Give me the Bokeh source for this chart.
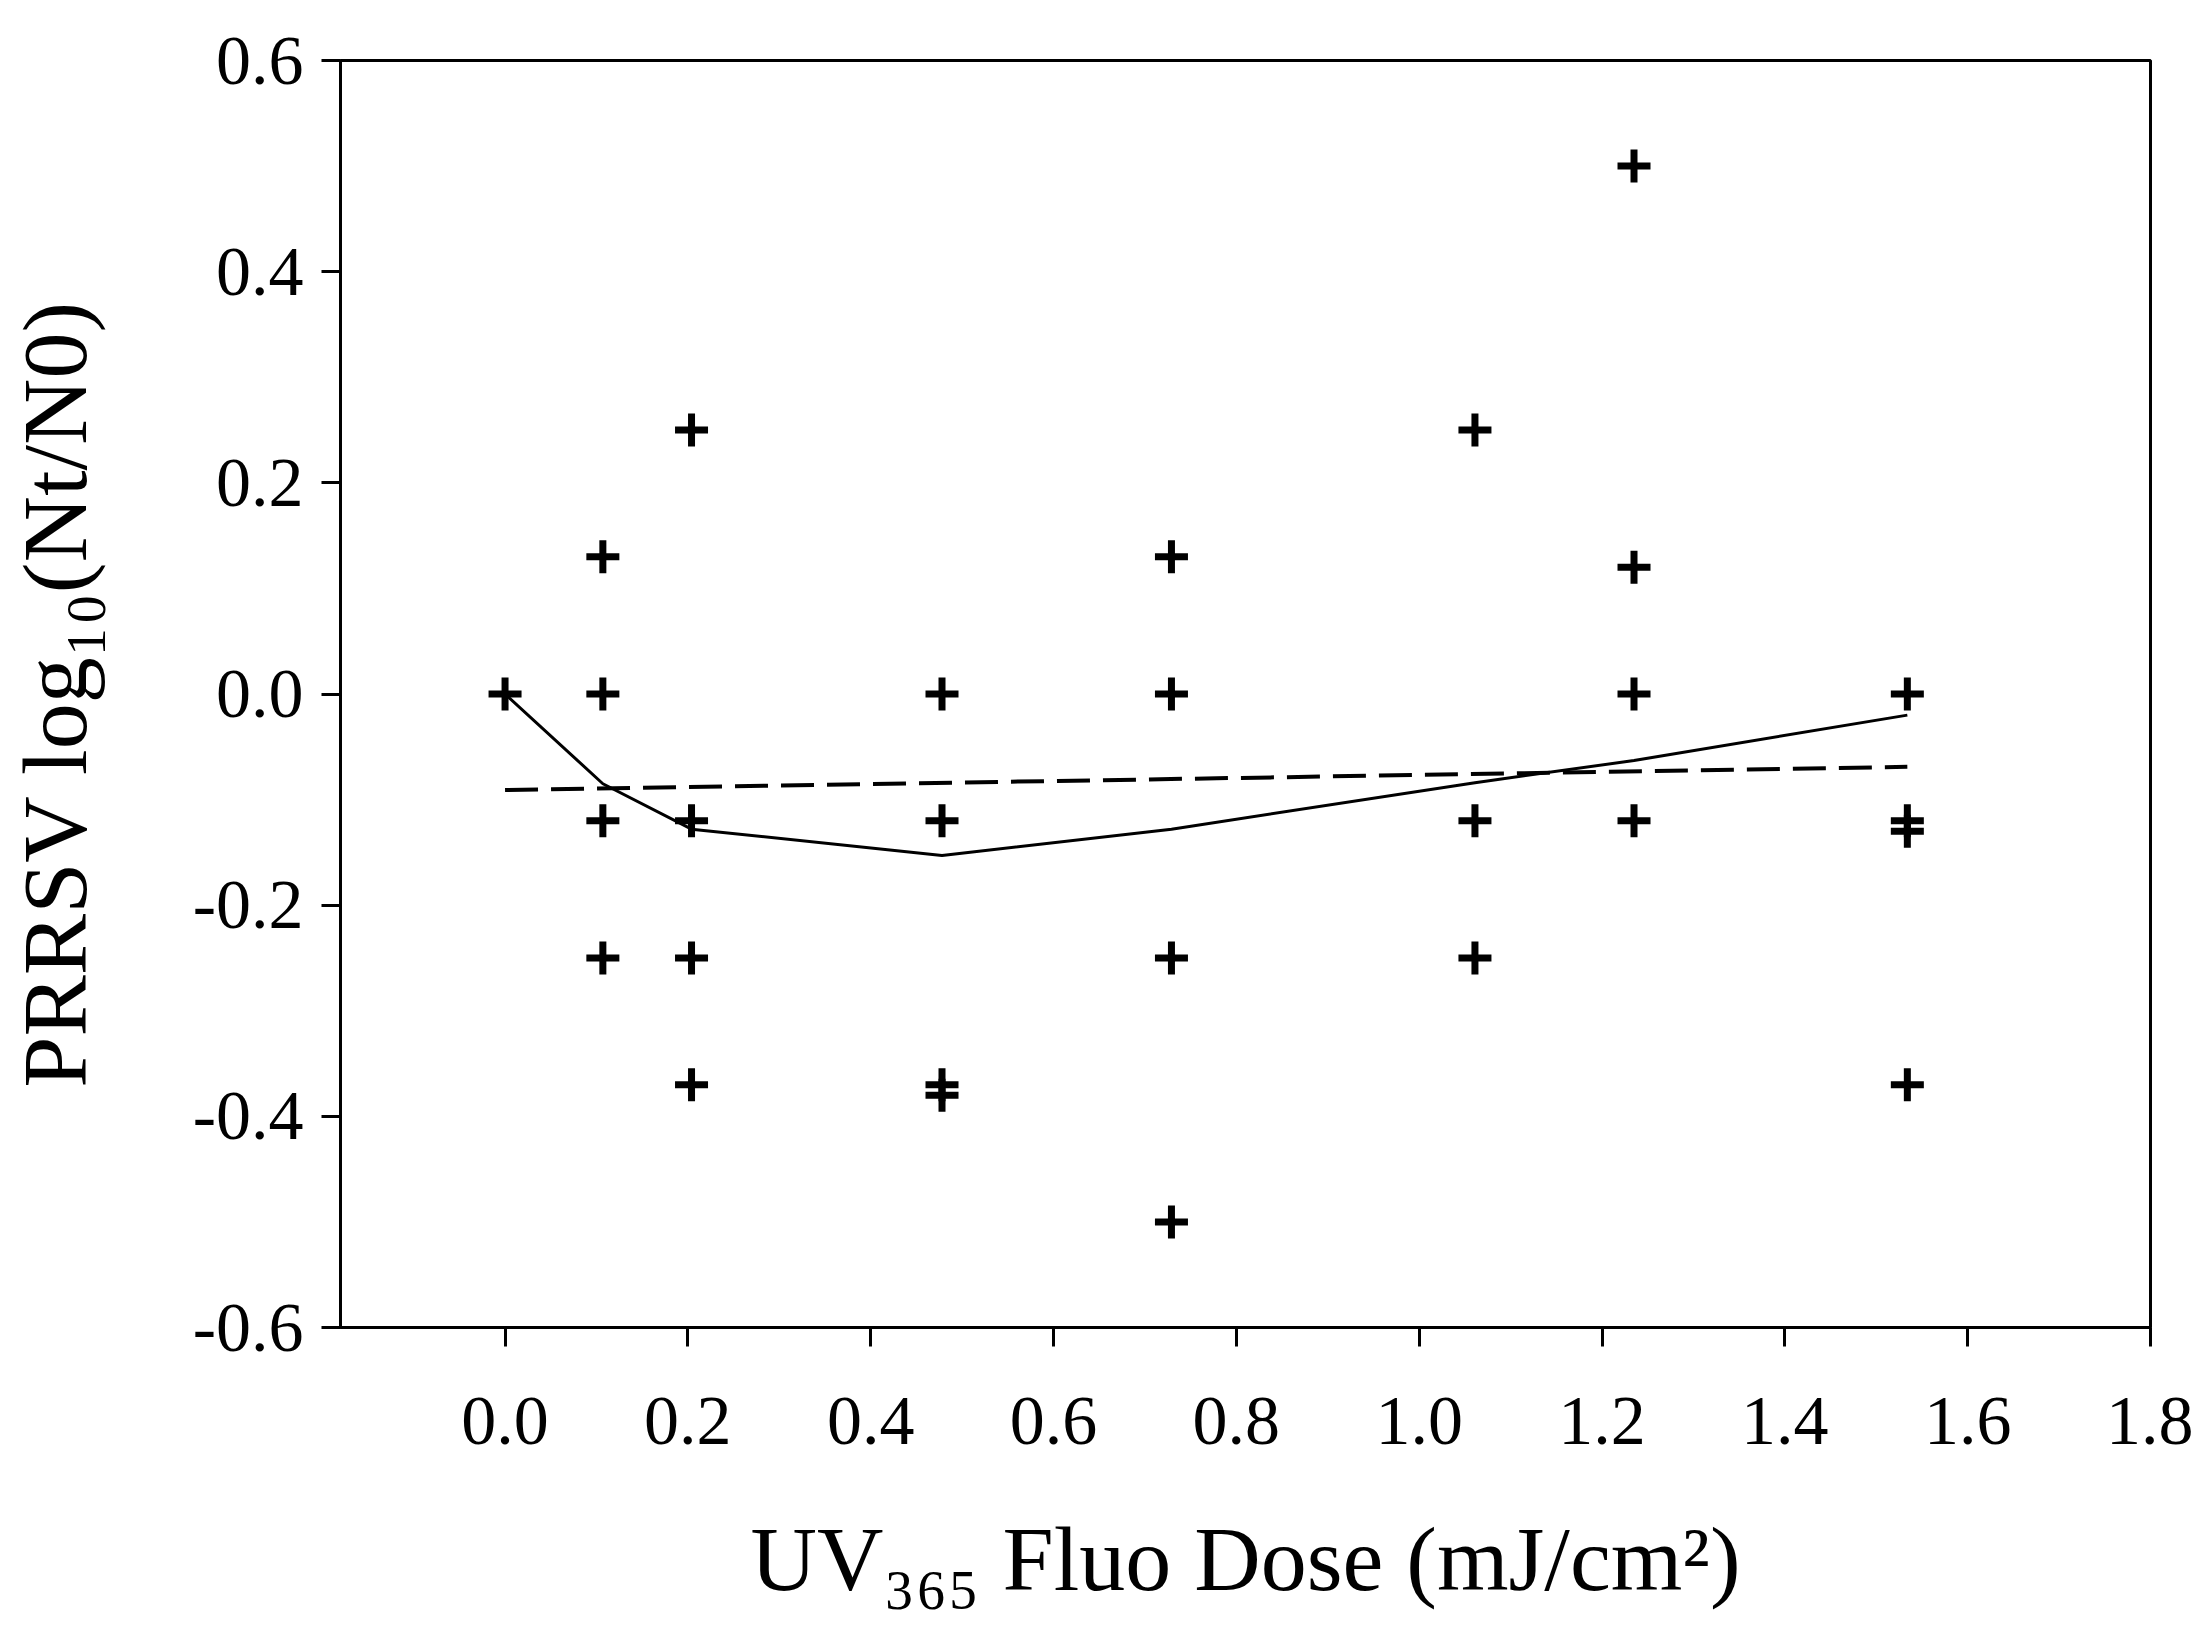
from bokeh.plotting import figure
from bokeh.models import FixedTicker, PrintfTickFormatter, Range1d
from bokeh.embed import file_html
from bokeh.resources import INLINE

# ---- data ----
doses = [0.0, 0.107, 0.204, 0.478, 0.729, 1.061, 1.235, 1.534]
replicates = [
    [0.0],
    [0.13, 0.0, -0.12, -0.25],
    [0.25, -0.12, -0.25, -0.37],
    [0.0, -0.12, -0.37, -0.38],
    [0.13, 0.0, -0.25, -0.50],
    [0.25, -0.12, -0.25],
    [0.50, 0.12, 0.0, -0.12],
    [0.0, -0.12, -0.13, -0.37],
]
mean_curve = [0.0, -0.085, -0.128, -0.153, -0.128, -0.084, -0.063, -0.020]
fit_x = [0.0, 1.534]
fit_y = [-0.091, -0.069]

x_ticks = [0.0, 0.2, 0.4, 0.6, 0.8, 1.0, 1.2, 1.4, 1.6, 1.8]
y_ticks = [-0.6, -0.4, -0.2, 0.0, 0.2, 0.4, 0.6]

x_title = "UV\u2083\u2086\u2085 Fluo Dose (mJ/cm\u00b2)"
y_title = "PRRSV log\u2081\u2080(Nt/N0)"

pts_x = [d for d, ys in zip(doses, replicates) for _ in ys]
pts_y = [v for ys in replicates for v in ys]

FONT = "Liberation Serif"

p = figure(
    output_backend="svg", toolbar_location=None,
    frame_width=1810, frame_height=1267,
    min_border_left=338, min_border_right=43,
    min_border_top=60, min_border_bottom=309,
    x_range=Range1d(-0.18, 1.8), y_range=Range1d(-0.6, 0.6),
)
p.grid.visible = False
p.background_fill_color = "white"
p.border_fill_color = "white"
p.outline_line_color = "black"
p.outline_line_width = 3

p.line(fit_x, fit_y, line_color="black", line_width=4, line_dash="33 13")
p.line(doses, mean_curve, line_color="black", line_width=3)
p.scatter(pts_x, pts_y, marker="cross", size=33, line_width=7, line_color="black")

for ax in (p.xaxis[0], p.yaxis[0]):
    ax.axis_line_width = 3
    ax.axis_line_color = "black"
    ax.major_tick_line_width = 3
    ax.major_tick_line_color = "black"
    ax.major_tick_out = 19
    ax.major_tick_in = 0
    ax.minor_tick_line_color = None
    ax.major_label_text_font = FONT
    ax.major_label_text_font_size = "70px"
    ax.major_label_text_color = "black"
    ax.axis_label_text_font = FONT
    ax.axis_label_text_font_size = "92px"
    ax.axis_label_text_font_style = "normal"
    ax.axis_label_text_color = "black"
    ax.formatter = PrintfTickFormatter(format="%.1f")

p.xaxis[0].ticker = FixedTicker(ticks=x_ticks)
p.yaxis[0].ticker = FixedTicker(ticks=y_ticks)
p.xaxis[0].axis_label = x_title
p.yaxis[0].axis_label = y_title
p.xaxis[0].major_label_standoff = 51
p.yaxis[0].major_label_standoff = 18
p.xaxis[0].axis_label_standoff = 61
p.yaxis[0].axis_label_standoff = 84

open("out.html", "w").write(file_html(p, INLINE))
